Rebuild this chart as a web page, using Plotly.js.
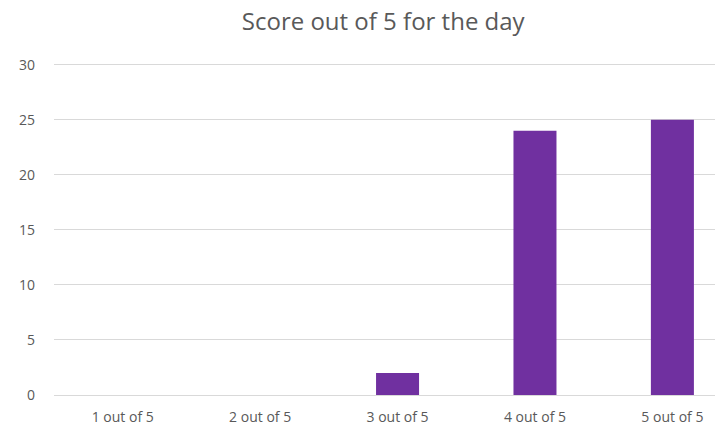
<!DOCTYPE html>
<html>
<head>
<meta charset="utf-8">
<script src="https://cdn.plot.ly/plotly-3.0.1.min.js"></script>
<style>html,body{margin:0;padding:0;background:#fff;}#chart{width:719px;height:434px;}</style>
</head>
<body>
<div id="chart"></div>
<script>
const categories = ["1 out of 5", "2 out of 5", "3 out of 5", "4 out of 5", "5 out of 5"];
const counts = [0, 0, 2, 24, 25];
const yTicks = [0, 5, 10, 15, 20, 25, 30];

const fontFam = "'Open Sans', sans-serif";

Plotly.newPlot('chart', [{
  type: 'bar',
  x: categories,
  y: counts,
  marker: {color: '#7030A0'},
  hoverinfo: 'x+y'
}], {
  width: 719,
  height: 434,
  margin: {l: 54, r: 4, t: 62, b: 39},
  paper_bgcolor: '#fff',
  plot_bgcolor: '#fff',
  bargap: 0.687,
  title: {
    text: 'Score out of 5 for the day',
    font: {family: fontFam, size: 24, color: '#595959'},
    xref: 'container', x: 0.533, xanchor: 'center',
    yref: 'container', y: 0.95, yanchor: 'middle'
  },
  font: {family: fontFam, size: 14, color: '#595959'},
  xaxis: {
    type: 'category',
    range: [-0.5, 4.31],
    showgrid: false,
    showline: false,
    zeroline: false,
    ticks: '',
    ticklabelstandoff: 12,
    tickfont: {size: 14, color: '#595959'},
    fixedrange: true
  },
  yaxis: {
    range: [0, 30.25],
    tickvals: yTicks,
    ticktext: yTicks.map(String),
    showgrid: true,
    gridcolor: '#d9d9d9',
    gridwidth: 1,
    zeroline: true,
    zerolinecolor: '#d9d9d9',
    zerolinewidth: 1,
    showline: false,
    ticks: '',
    ticklabelstandoff: 18,
    tickfont: {size: 14, color: '#595959'},
    fixedrange: true
  },
  showlegend: false
}, {displayModeBar: false, staticPlot: true});
</script>
</body>
</html>
